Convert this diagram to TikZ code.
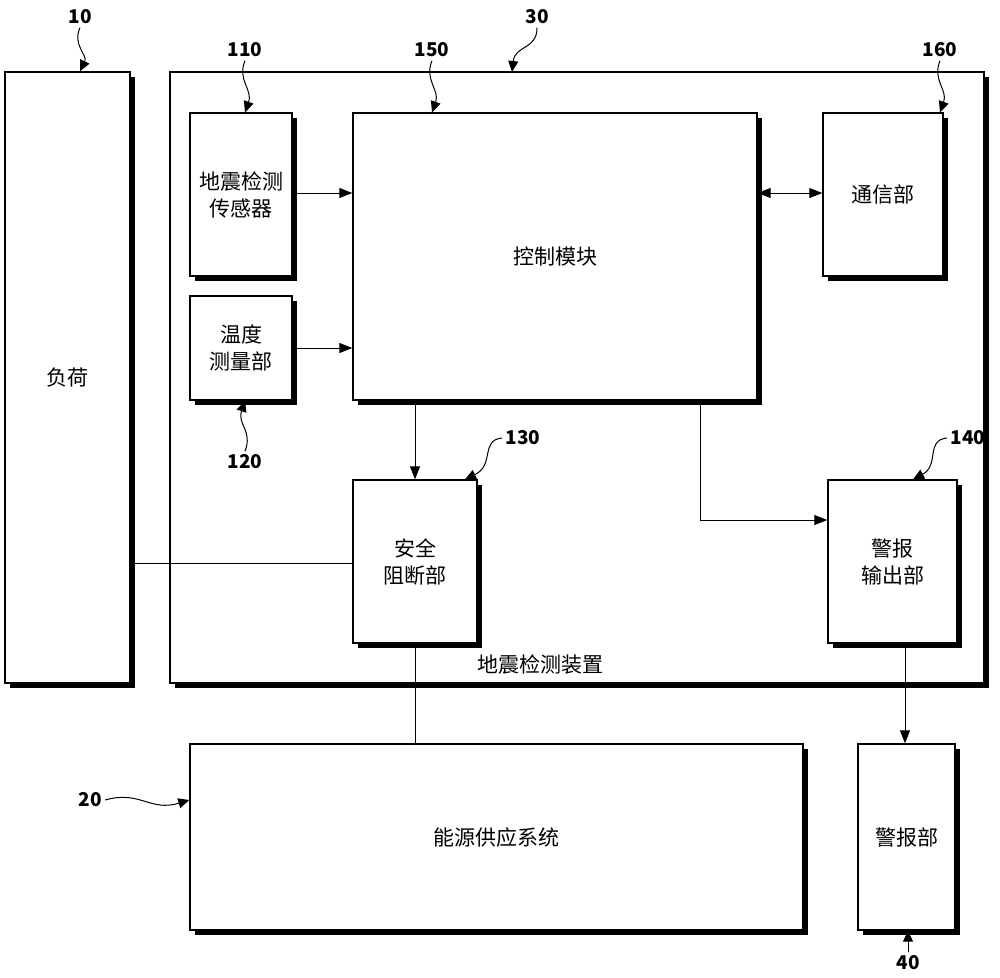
\documentclass[tikz,border=0pt]{standalone}
\usepackage{fontspec}
\setmainfont{Noto Sans CJK SC}
\usetikzlibrary{arrows.meta}
\begin{document}
\begin{tikzpicture}[x=1pt,y=-1pt,
  box/.style={draw,line width=1.4pt,fill=white,inner sep=0pt,font=\fontsize{21}{27}\selectfont,align=center},
  arr/.style={-{Triangle[length=13pt,width=10pt]},line width=1pt},
  ln/.style={line width=1pt},
  sq/.style={-{Triangle[length=11pt,width=10pt]},line width=1pt},
  num/.style={font=\bfseries\fontsize{19}{21}\selectfont}]
\useasboundingbox (0,0) rectangle (1000,977);
\newcommand{\bx}[6]{% name x1 y1 x2 y2 text
  \fill (#2+5,#3+5) rectangle (#4+5,#5+5);
  \node[box,minimum width=#4-#2,minimum height=#5-#3] (#1) at ({(#2+#4)/2},{(#3+#5)/2}) {#6};}
\draw[line width=1.4pt] (170,72) rectangle (984,683);
\fill (984,77) rectangle (989,688); \fill (175,683) rectangle (989,688);
\coordinate (outer) at (170,72);
\bx{load}{5}{72}{130}{683}{负荷}
\bx{sensor}{190}{113}{292}{276}{地震检测\\传感器}
\bx{ctrl}{353}{113}{757}{400}{控制模块}
\bx{comm}{823}{113}{943}{276}{通信部}
\bx{temp}{190}{296}{292}{400}{温度\\测量部}
\bx{safe}{353}{480}{477}{643}{安全\\阻断部}
\bx{alarmout}{828}{480}{957}{643}{警报\\输出部}
\bx{power}{190}{744}{803}{930}{能源供应系统}
\bx{alarm}{858}{744}{955}{930}{警报部}
\node[font=\fontsize{21}{27}\selectfont] (devlbl) at (540,664) {地震检测装置};
% connectors
\draw[arr] (sensor.east |- 0,193) -- (ctrl.west |- 0,193);
\draw[arr] (temp.east |- 0,348) -- (ctrl.west |- 0,348);
\draw[{Triangle[length=13pt,width=10pt]}-{Triangle[length=13pt,width=10pt]},line width=1pt] (ctrl.east |- 0,193) -- (comm.west |- 0,193);
\draw[arr] (ctrl.south -| safe.north) -- (safe.north);
\draw[arr] (ctrl.south -| 700,0) |- (alarmout.west |- 0,520);
\draw[ln] (load.east |- 0,563) -- (safe.west |- 0,563);
\draw[ln] (safe.south) -- (power.north -| safe.south);
\draw[arr] (alarmout.south -| 905,0) -- (alarm.north -| 905,0);
% labels
\node[num] (n10) at (80,17) {10};
\node[num] (n110) at (245,50) {110};
\node[num] (n150) at (432,50) {150};
\node[num] (n30) at (537,17) {30};
\node[num] (n160) at (940,50) {160};
\node[num] (n120) at (245,462) {120};
\node[num] (n130) at (523,438) {130};
\node[num] (n140) at (968,438) {140};
\node[num] (n20) at (90,800) {20};
\node[num] (n40) at (908,963) {40};
\draw[sq] (n10.south) .. controls (72,45) and (88,55) .. (load.north -| 80,0);
\draw[sq] (n110.south) .. controls (237,80) and (253,90) .. (sensor.north -| 245,0);
\draw[sq] (n150.south) .. controls (424,80) and (440,90) .. (ctrl.north -| 432,0);
\draw[sq] (n30.south) .. controls (537,50) and (515,45) .. (outer -| 512,0);
\draw[sq] (n160.south) .. controls (932,80) and (948,90) .. (comm.north -| 940,0);
\draw[sq] (n120.north) .. controls (253,430) and (237,425) .. (temp.south -| 245,0);
\draw[sq] (n130.west) .. controls (480,440) and (495,465) .. (safe.north -| 465,0);
\draw[sq] (n140.west) .. controls (925,440) and (940,465) .. (alarmout.north -| 913,0);
\draw[sq] (n20.east) .. controls (140,790) and (150,812) .. (power.west |- 0,800);
\draw[sq] (n40.north) -- (alarm.south -| 908,0);
\end{tikzpicture}
\end{document}
